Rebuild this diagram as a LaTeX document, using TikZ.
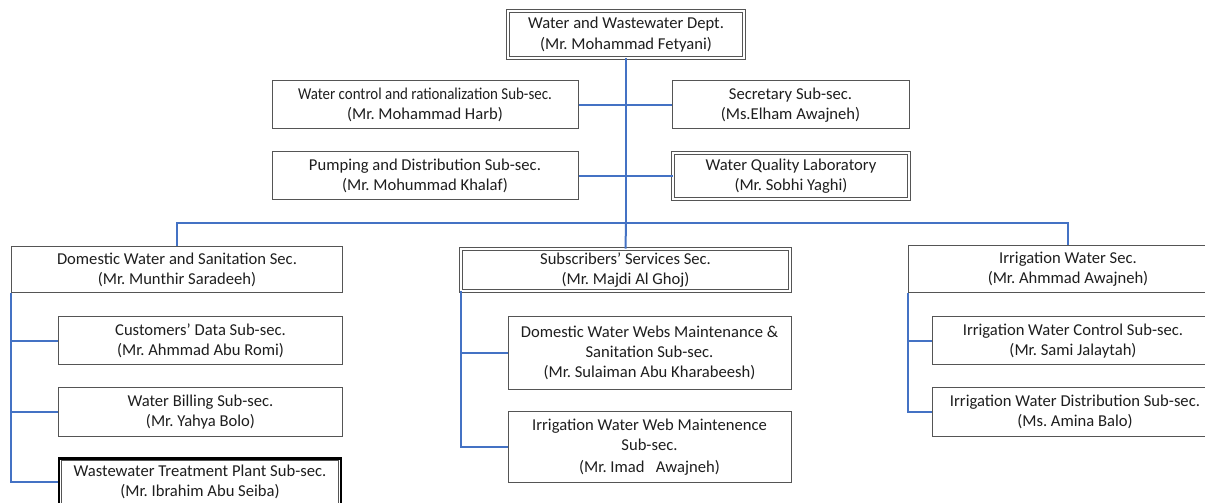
\documentclass[tikz,border=0pt]{standalone}
\usepackage{fontspec}
\setmainfont{Carlito}
\usetikzlibrary{calc}
\definecolor{boxline}{HTML}{555555}
\definecolor{linkblue}{HTML}{4472C4}
\definecolor{txt}{HTML}{1E1E1E}
\begin{document}
\frenchspacing
\begin{tikzpicture}[x=1bp,y=-1bp,
  unit/.style={draw=boxline, line width=1bp, fill=white, align=center, inner sep=0pt,
    text=txt, font=\fontsize{16.6bp}{20bp}\selectfont},
  dbl/.style={unit, double=white, double distance=2bp, line width=0.9bp},
  heavy/.style={unit, draw=black, line width=2.6bp},
  link/.style={draw=linkblue, line width=2bp}]
\useasboundingbox (0,0) rectangle (1205,503);
\clip (0,0) rectangle (1205,503);
\fill[white] (0,0) rectangle (1205,503);

% department head and staff units
\node[dbl, minimum width=236bp, minimum height=47bp] (dept) at (626,34.5)
  {Water and Wastewater Dept.\\[1bp](Mr. Mohammad Fetyani)};
\node[unit, minimum width=306bp, minimum height=48bp] (wc) at (425,105)
  {\scalebox{0.9}[1]{Water control and rationalization Sub-sec.}\\(Mr. Mohammad Harb)};
\node[unit, minimum width=237bp, minimum height=48bp] (secr) at (790.5,105)
  {Secretary Sub-sec.\\(Ms.Elham Awajneh)};
\node[unit, minimum width=306bp, minimum height=48bp] (pump) at (425,176)
  {Pumping and Distribution Sub-sec.\\(Mr. Mohummad Khalaf)};
\node[dbl, minimum width=236bp, minimum height=46bp] (lab) at (791,176)
  {Water Quality Laboratory\\(Mr. Sobhi Yaghi)};

% sections
\node[unit, minimum width=330bp, minimum height=46bp] (dom) at (177,270)
  {Domestic Water and Sanitation Sec.\\(Mr. Munthir Saradeeh)};
\node[dbl, minimum width=329bp, minimum height=42bp] (subs) at (625.5,270)
  {Subscribers’\ Services Sec.\\(Mr. Majdi Al Ghoj)};
\node[unit, minimum width=320bp, minimum height=47bp] (irr) at (1068,269.5)
  {Irrigation Water Sec.\\(Mr. Ahmmad Awajneh)};

% sub-sections of the domestic water section
\node[unit, minimum width=283bp, minimum height=48bp] (cust) at (200.5,341)
  {Customers’\ Data Sub-sec.\\(Mr. Ahmmad Abu Romi)};
\node[unit, minimum width=283bp, minimum height=48bp] (bill) at (200.5,412)
  {Water Billing Sub-sec.\\(Mr. Yahya Bolo)};
\node[heavy, minimum width=282bp, minimum height=47bp] (wwtp) at (200,482)
  {Wastewater Treatment Plant Sub-sec.\\(Mr. Ibrahim Abu Seiba)};
\draw[boxline, line width=0.8bp] ($(wwtp.north west)+(3.5,3.5)$) rectangle ($(wwtp.south east)+(-3.5,-3.5)$);

% sub-sections of the subscribers' services section
\node[unit, minimum width=283bp, minimum height=72bp] (dweb) at (649.5,353)
  {Domestic Water Webs Maintenance \&\\Sanitation Sub-sec.\\(Mr. Sulaiman Abu Kharabeesh)};
\node[unit, minimum width=283bp, minimum height=70bp] (iweb) at (649.5,447)
  {Irrigation Water Web Maintenence\\Sub-sec.\\[2bp](Mr. Imad\ \ \ Awajneh)};

% sub-sections of the irrigation section
\node[unit, minimum width=282bp, minimum height=48bp] (ictl) at (1073,341)
  {Irrigation Water Control Sub-sec.\\(Mr. Sami Jalaytah)};
\node[unit, minimum width=286bp, minimum height=48bp] (idist) at (1075,412)
  {Irrigation Water Distribution Sub-sec.\\(Ms. Amina Balo)};

% connectors
\coordinate (bus) at (626,223);
\draw[link] (dept.south) -- (bus);
\draw[link] (wc.east) -- (secr.west);
\draw[link] (pump.east) -- (lab.west);
\draw[link] (dom.north) |- (bus) -| (irr.north);
\draw[link] (bus) -- (subs.north);

\draw[link] (dom.south west) |- (wwtp.west);
\draw[link] (dom.south west |- cust.west) -- (cust.west);
\draw[link] (dom.south west |- bill.west) -- (bill.west);

\coordinate (sv) at (461,0);
\draw[link] (sv |- subs.south) |- (iweb.west);
\draw[link] (sv |- dweb.west) -- (dweb.west);

\draw[link] (irr.south west) |- (idist.west);
\draw[link] (irr.south west |- ictl.west) -- (ictl.west);
\end{tikzpicture}
\end{document}
